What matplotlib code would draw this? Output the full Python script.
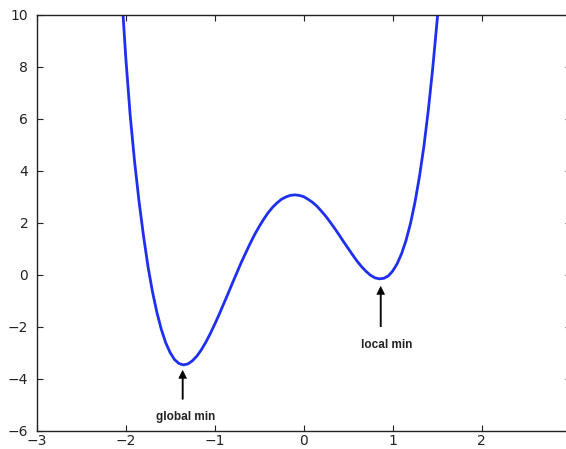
import matplotlib
matplotlib.use("Agg")
import matplotlib.pyplot as plt

# curve, x step 0.05
xs = [-2.05, -2.00, -1.95, -1.90, -1.85, -1.80, -1.75, -1.70, -1.65, -1.60,
      -1.55, -1.50, -1.45, -1.40, -1.35, -1.30, -1.25, -1.20, -1.15, -1.10,
      -1.05, -1.00, -0.95, -0.90, -0.85, -0.80, -0.75, -0.70, -0.65, -0.60,
      -0.55, -0.50, -0.45, -0.40, -0.35, -0.30, -0.25, -0.20, -0.15, -0.10,
      -0.05, 0.00, 0.05, 0.10, 0.15, 0.20, 0.25, 0.30, 0.35, 0.40,
      0.45, 0.50, 0.55, 0.60, 0.65, 0.70, 0.75, 0.80, 0.85, 0.90,
      0.95, 1.00, 1.05, 1.10, 1.15, 1.20, 1.25, 1.30, 1.35, 1.40,
      1.45, 1.50, 1.55]
ys = [11.10, 8.40, 6.15, 4.35, 2.82, 1.50, 0.33, -0.64, -1.44, -2.10,
      -2.62, -3.00, -3.27, -3.42, -3.47, -3.43, -3.31, -3.13, -2.89, -2.60,
      -2.27, -1.91, -1.53, -1.13, -0.73, -0.32, 0.08, 0.48, 0.85, 1.21,
      1.55, 1.85, 2.13, 2.38, 2.59, 2.76, 2.90, 2.99, 3.05, 3.07,
      3.05, 3.00, 2.90, 2.78, 2.63, 2.44, 2.24, 2.01, 1.77, 1.52,
      1.26, 1.01, 0.76, 0.52, 0.31, 0.13, -0.02, -0.12, -0.16, -0.14,
      -0.05, 0.14, 0.42, 0.81, 1.32, 1.97, 2.78, 3.76, 4.92, 6.32,
      7.95, 9.80, 11.80]

x_ticks = [-3, -2, -1, 0, 1, 2, 3]
y_ticks = [-6, -4, -2, 0, 2, 4, 6, 8, 10]

# annotations: label, arrow tip, arrow tail, text position
notes = [
    ("global min", (-1.36, -3.69), (-1.36, -4.79), (-1.33, -5.47)),
    ("local min", (0.865, -0.46), (0.865, -2.0), (0.927, -2.70)),
]


def main():
    fig = plt.figure(figsize=(5.66, 4.49), dpi=100)
    ax = fig.add_axes([0.0648, 0.0408, 0.9435, 0.9265])

    ax.plot(xs, ys, color='#1f2ff0', lw=2.0)

    ax.set_xlim(-3, 3)
    ax.set_ylim(-6, 10)
    ax.set_xticks(x_ticks)
    ax.set_yticks(y_ticks)
    ax.set_xticklabels(['\u2212' + str(-t) if t < 0 else str(t) for t in x_ticks])
    ax.set_yticklabels(['\u2212' + str(-t) if t < 0 else str(t) for t in y_ticks])

    ax.tick_params(direction='in', length=4, width=0.8, top=True, right=True,
                   labelsize=10, colors='#222222', pad=6)
    ax.tick_params(axis='x', pad=2.5)
    for s in ax.spines.values():
        s.set_color('#222222')
        s.set_linewidth(1.0)

    for label, tip, tail, txt in notes:
        ax.annotate('', xy=tip, xytext=tail,
                    arrowprops=dict(facecolor='black', edgecolor='black',
                                    width=0.8, headwidth=5.5, headlength=5.5,
                                    shrink=0.0, lw=0.5))
        ax.text(txt[0], txt[1], label, ha='center', va='center',
                fontsize=8.5, fontweight='bold', family='Liberation Sans',
                color='#222222')

    fig.savefig('out.png', dpi=100)


if __name__ == '__main__':
    main()
